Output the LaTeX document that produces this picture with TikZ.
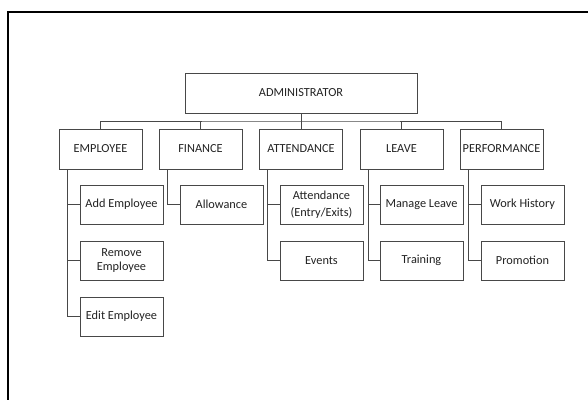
\documentclass[tikz,border=0pt]{standalone}
\usepackage{fontspec}
\setmainfont{Carlito}
\usetikzlibrary{calc}
\definecolor{boxline}{HTML}{484848}
\definecolor{txt}{HTML}{222222}
\begin{document}
\begin{tikzpicture}[x=1pt,y=-1pt,
  box/.style={draw=boxline,line width=0.9pt,minimum width=83pt,minimum height=40pt,inner sep=0pt,
    align=center,text=txt,font=\fontsize{12.3}{14}\selectfont},
  sub/.style={box,minimum height=39pt},
  conn/.style={draw=boxline,line width=0.8pt}]
\useasboundingbox (0,0) rectangle (588,399);
\draw[line width=2.3pt] (7.8,400) -- (7.8,12.2) -- (590,12.2);
\node[box,minimum width=232pt] (adm) at (301,93) {ADMINISTRATOR};
\node[box] (emp) at (100.5,149) {EMPLOYEE};
\node[box] (fin) at (200.5,149) {FINANCE};
\node[box] (att) at (301,149) {ATTENDANCE};
\node[box] (lea) at (401.5,149) {LEAVE};
\node[box] (per) at (501.5,149) {PERFORMANCE};
\coordinate (bus) at (301,121);
\draw[conn] (adm.south) -- (bus);
\draw[conn] (emp.north) |- (bus) -| (per.north);
\draw[conn] (fin.north) -- (fin.north |- bus);
\draw[conn] (att.north) -- (bus);
\draw[conn] (lea.north) -- (lea.north |- bus);
% children
\node[sub] (e1) at (121.5,204.5) {Add Employee};
\node[sub] (e2) at (121.5,260.5) {Remove\\Employee};
\node[sub] (e3) at (121.5,316.5) {Edit Employee};
\node[sub] (f1) at (221.5,204.5) {Allowance};
\node[sub] (a1) at (321.5,204.5) {Attendance\\[3pt](Entry/Exits)};
\node[sub] (a2) at (321.5,260.5) {Events};
\node[sub] (l1) at (421.5,204.5) {Manage Leave};
\node[sub] (l2) at (421.5,260.5) {Training};
\node[sub] (p1) at (522.5,204.5) {Work History};
\node[sub] (p2) at (522.5,260.5) {Promotion};
\draw[conn] ([xshift=8.5pt]emp.south west) |- (e3.west);
\draw[conn] ([xshift=8.5pt]emp.south west) |- (e2.west);
\draw[conn] ([xshift=8.5pt]emp.south west) |- (e1.west);
\draw[conn] ([xshift=8.5pt]fin.south west) |- (f1.west);
\draw[conn] ([xshift=8.5pt]att.south west) |- (a2.west);
\draw[conn] ([xshift=8.5pt]att.south west) |- (a1.west);
\draw[conn] ([xshift=8.5pt]lea.south west) |- (l2.west);
\draw[conn] ([xshift=8.5pt]lea.south west) |- (l1.west);
\draw[conn] ([xshift=8.5pt]per.south west) |- (p2.west);
\draw[conn] ([xshift=8.5pt]per.south west) |- (p1.west);
\end{tikzpicture}
\end{document}
